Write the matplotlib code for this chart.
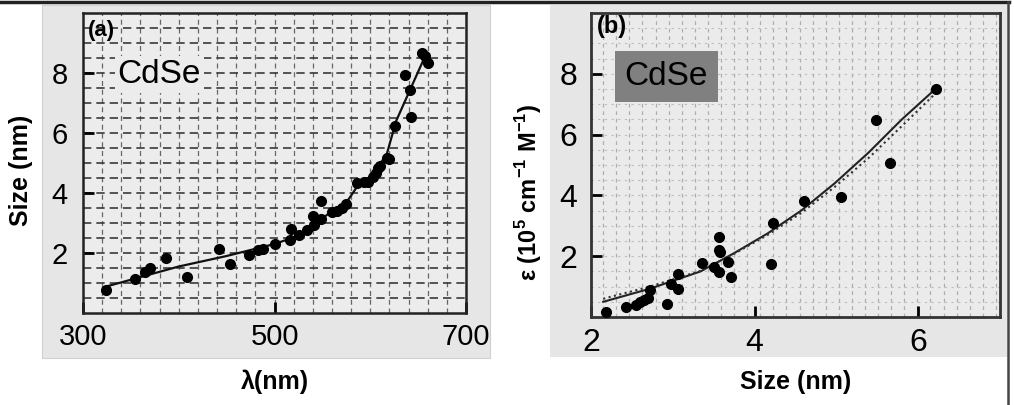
import numpy as np
import matplotlib
matplotlib.use("Agg")
import matplotlib.pyplot as plt
from matplotlib.patches import Rectangle
from matplotlib.lines import Line2D

plt.rcParams['font.family'] = ['Liberation Sans', 'DejaVu Sans']
plt.rcParams['mathtext.fontset'] = 'custom'
plt.rcParams['mathtext.rm'] = 'Liberation Sans'
plt.rcParams['mathtext.bf'] = 'Liberation Sans:bold'

# (a) size vs first absorption peak
wl = [324, 354, 365, 370, 387, 409, 442, 454, 473, 483, 488, 500, 516, 517,
      526, 534, 540, 541, 549, 549, 560, 565, 570, 575, 586, 593, 598, 603,
      606, 608, 610, 617, 620, 626, 636, 641, 642, 654, 657, 660]
size_a = [0.77, 1.12, 1.38, 1.49, 1.84, 1.21, 2.12, 1.62, 1.92, 2.10, 2.12,
          2.30, 2.43, 2.80, 2.60, 2.77, 3.23, 2.93, 3.73, 3.12, 3.36, 3.41,
          3.49, 3.63, 4.34, 4.38, 4.38, 4.54, 4.66, 4.82, 4.90, 5.16, 5.12,
          6.23, 7.93, 7.43, 6.54, 8.66, 8.57, 8.34]
fit_wl = [324, 400, 450, 500, 527, 541, 560, 575, 586, 600, 617, 627, 641, 655]
fit_size = [0.88, 1.55, 1.90, 2.30, 2.60, 2.93, 3.40, 3.68, 4.20, 4.55, 5.27, 6.40, 7.40, 8.40]

# (b) extinction coefficient vs size
size_b = [2.18, 2.43, 2.55, 2.60, 2.65, 2.70, 2.72, 2.93, 2.98, 3.07, 3.07,
          3.36, 3.50, 3.56, 3.57, 3.58, 3.56, 3.68, 3.71, 4.20, 4.23, 4.61,
          5.06, 5.48, 5.66, 6.22]
eps = [0.17, 0.32, 0.41, 0.50, 0.56, 0.63, 0.90, 0.42, 1.10, 0.92, 1.43,
       1.79, 1.64, 2.62, 2.21, 2.14, 1.48, 1.81, 1.32, 1.73, 3.08, 3.82,
       3.95, 6.47, 5.05, 7.51]
fit_b_x = [2.15, 2.72, 3.34, 3.75, 4.16, 4.57, 4.98, 5.39, 5.80, 6.19]
fit_b_y = [0.50, 0.93, 1.50, 2.10, 2.75, 3.50, 4.40, 5.40, 6.50, 7.45]
fit_b2_y = [0.60, 1.00, 1.52, 2.08, 2.70, 3.42, 4.28, 5.22, 6.28, 7.30]

fig = plt.figure(figsize=(10.14, 4.05), dpi=100)
fig.patch.set_facecolor('white')

# grey panel backgrounds
fig.patches.append(Rectangle((0.0414, 0.116), 0.4418, 0.8716, transform=fig.transFigure,
                             facecolor='#e6e6e6', edgecolor='#d0d0d0', lw=0.8, zorder=-5))
fig.patches.append(Rectangle((0.5424, 0.1185), 0.4507, 0.869, transform=fig.transFigure,
                             facecolor='#e6e6e6', edgecolor='none', zorder=-5))
# outer frame lines (top and right)
fig.lines.append(Line2D([0, 0.995], [0.995, 0.995], transform=fig.transFigure, color='#222222', lw=2.5))
fig.lines.append(Line2D([0.994, 0.994], [0, 0.995], transform=fig.transFigure, color='#444444', lw=1.8))

# ---- panel (a)
ax1 = fig.add_axes([0.0819, 0.2272, 0.3777, 0.7407])
ax1.set_facecolor('#ececec')
ax1.set_xlim(300, 700)
ax1.set_ylim(0, 10)
for gx in np.arange(320, 700, 20):
    ax1.axvline(gx, color='#666666', lw=0.9, ls=(0, (4, 3)), zorder=1)
for gy in np.arange(0.5, 10, 0.5):
    ax1.axhline(gy, color='#3a3a3a', lw=1.2, ls=(0, (5, 3)), zorder=1)
ax1.plot(fit_wl, fit_size, color='#111111', lw=1.6, zorder=3)
ax1.plot(wl, size_a, 'o', color='black', ms=7, zorder=4)
ax1.set_xticks([300, 500, 700])
ax1.set_yticks([2, 4, 6, 8])
ax1.tick_params(direction='in', length=8, width=2, labelsize=21, pad=7)
ax1.tick_params(axis='y', pad=11)
for s in ax1.spines.values():
    s.set_linewidth(1.8)
    s.set_color('#222222')
ax1.set_ylabel('Size (nm)', fontsize=18, fontweight='bold')
ax1.yaxis.set_label_coords(-0.13, 0.475)
ax1.set_xlabel('λ(nm)', fontsize=18, fontweight='bold')
ax1.xaxis.set_label_coords(0.5, -0.19)
ax1.text(0.012, 0.94, '(a)', transform=ax1.transAxes, fontsize=16, fontweight='bold',
         va='center', ha='left', zorder=5)
ax1.text(0.09, 0.795, 'CdSe', transform=ax1.transAxes, fontsize=24,
         va='center', ha='left', zorder=5,
         bbox=dict(facecolor='#ececec', edgecolor='none', pad=2))

# ---- panel (b)
ax2 = fig.add_axes([0.5828, 0.2173, 0.4034, 0.7506])
ax2.set_facecolor('#ebebeb')
ax2.set_xlim(2, 7)
ax2.set_ylim(0, 10)
for gx in np.arange(2.15, 7, 0.16):
    ax2.axvline(gx, color='#adadad', lw=0.9, ls=(0, (3, 3)), zorder=1)
for gy in np.arange(0.5, 10, 0.5):
    ax2.axhline(gy, color='#bdbdbd', lw=0.8, ls=(0, (2, 4)), zorder=1)
ax2.plot(fit_b_x, fit_b_y, color='#222222', lw=1.5, zorder=3)
ax2.plot(fit_b_x, fit_b2_y, color='#333333', lw=1.5, ls=':', zorder=3)
ax2.plot(size_b, eps, 'o', color='black', ms=7, zorder=4)
ax2.set_xticks([2, 4, 6])
ax2.set_yticks([2, 4, 6, 8])
ax2.tick_params(direction='in', length=8, width=2, labelsize=23, pad=8)
ax2.tick_params(axis='y', pad=10)
for s in ax2.spines.values():
    s.set_linewidth(2.0)
    s.set_color('#333333')
ax2.set_ylabel(r'ε (10$^{\mathbf{5}}$ cm$^{\mathbf{-1}}$ M$^{\mathbf{-1}}$)',
               fontsize=17, fontweight='bold')
ax2.yaxis.set_label_coords(-0.115, 0.41)
ax2.set_xlabel('Size (nm)', fontsize=18, fontweight='bold')
ax2.xaxis.set_label_coords(0.5, -0.175)
ax2.text(0.015, 0.955, '(b)', transform=ax2.transAxes, fontsize=17, fontweight='bold',
         va='center', ha='left', zorder=5)
ax2.text(0.184, 0.79, 'CdSe', transform=ax2.transAxes, fontsize=24,
         va='center', ha='center', zorder=5,
         bbox=dict(facecolor='#808080', edgecolor='none', boxstyle='square,pad=0.3'))

fig.savefig('out.png', dpi=100)
